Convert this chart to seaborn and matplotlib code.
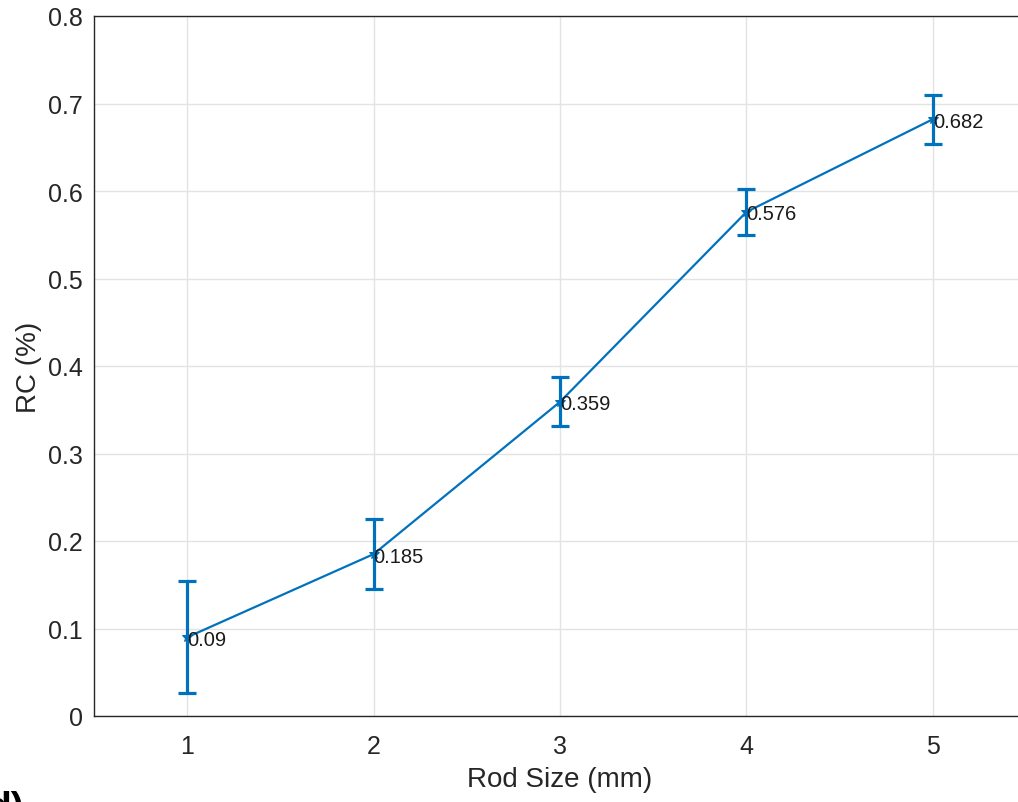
import matplotlib
matplotlib.use("Agg")
import matplotlib.pyplot as plt
import seaborn as sns
import pandas as pd

rod_size = [1, 2, 3, 4, 5]
rc_mean = [0.09, 0.185, 0.359, 0.576, 0.682]
rc_err = [0.064, 0.040, 0.028, 0.026, 0.028]
point_labels = ["0.09", "0.185", "0.359", "0.576", "0.682"]

sns.set_style("whitegrid")
plt.rcParams['font.family'] = ['Liberation Sans', 'DejaVu Sans']

df = pd.DataFrame({"Rod Size (mm)": rod_size, "RC (%)": rc_mean})
color = "#0072BD"

fig = plt.figure(figsize=(10.18, 8.03), dpi=100)
ax = fig.add_axes([94/1018, 1-717/803, (1026-94)/1018, (717-17)/803])

sns.lineplot(data=df, x="Rod Size (mm)", y="RC (%)", ax=ax, color=color,
             linewidth=1.6, marker="*", markersize=7, markeredgecolor=color)
ax.errorbar(rod_size, rc_mean, yerr=rc_err, fmt="none", ecolor=color,
            elinewidth=2.3, capsize=6.5, capthick=2.3)
for x, y, t in zip(rod_size, rc_mean, point_labels):
    ax.text(x, y, t, fontsize=14.5, color="#1a1a1a", ha="left", va="center_baseline")

ax.set_xlim(0.5, 5.5)
ax.set_ylim(0, 0.8)
ax.set_xticks(rod_size)
ax.set_yticks([0, 0.1, 0.2, 0.3, 0.4, 0.5, 0.6, 0.7, 0.8])
ax.set_yticklabels(["0", "0.1", "0.2", "0.3", "0.4", "0.5", "0.6", "0.7", "0.8"])
ax.grid(True, color="#e3e3e3", linewidth=1)
for s in ["left", "bottom", "top", "right"]:
    ax.spines[s].set_color("#262626")
    ax.spines[s].set_linewidth(1)
ax.tick_params(axis="both", direction="in", length=5, width=1, color="#262626",
               labelsize=18, labelcolor="#262626")
ax.tick_params(axis="y", pad=8)
ax.tick_params(axis="x", pad=13)
ax.set_xlabel("Rod Size (mm)", fontsize=20, color="#262626", labelpad=6)
ax.set_ylabel("RC (%)", fontsize=20, color="#262626", labelpad=4)

fig.text(-0.012, -0.02, "d)", fontsize=28, fontweight="bold", color="black")

fig.savefig("out.png", dpi=100)
